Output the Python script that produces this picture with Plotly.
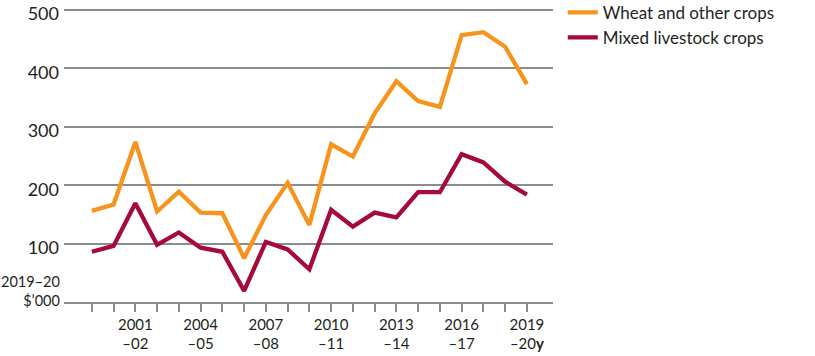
import plotly.graph_objects as go

years = list(range(1999, 2020))
wheat = [156, 167, 274, 155, 189, 153, 152, 75, 149, 204, 132, 270, 249, 323, 378, 344, 334, 457, 462, 437, 373]
mixed = [86, 96, 169, 98, 119, 93, 86, 19, 103, 90, 56, 158, 129, 153, 145, 188, 188, 253, 239, 206, 184]
series_names = ["Wheat and other crops", "Mixed livestock crops"]
colors = ["#F7941D", "#A6093D"]

label_years = [2001, 2004, 2007, 2010, 2013, 2016, 2019]
def tick_label(y):
    if y not in label_years:
        return ""
    suffix = str(y + 1)[-2:]
    if y == 2019:
        return f"{y}<br>–{suffix}<b>y</b>"
    return f"{y}<br>–{suffix}"
x_ticktext = [tick_label(y) for y in years]

y_tickvals = [100, 200, 300, 400, 500]
y_ticktext = ["100", "200", "300", "400", "500"]
y_unit_label = "2019–20<br>$’000"

FONT = "Lato"
TEXT = "#231f20"
GRID = "#8c8c8c"

fig = go.Figure()
for name, vals, c in zip(series_names, [wheat, mixed], colors):
    fig.add_trace(go.Scatter(x=years, y=vals, name=name, mode="lines",
                             line=dict(color=c, width=4.3)))

fig.update_layout(
    width=815, height=356,
    margin=dict(l=64, r=262, t=8, b=54, autoexpand=False),
    paper_bgcolor="white", plot_bgcolor="white",
    font=dict(family=FONT, size=16, color=TEXT),
    showlegend=True,
    legend=dict(x=1.02, xanchor="left", y=1.045, yanchor="top",
                font=dict(family=FONT, size=17, color=TEXT),
                bgcolor="rgba(0,0,0,0)", tracegroupgap=0),
    xaxis=dict(range=[1997.72, 2020.2], tickmode="array", tickvals=years,
               ticktext=x_ticktext, ticks="outside", ticklen=8, tickwidth=1.5,
               tickcolor=GRID, showgrid=False, showline=True, linecolor=GRID,
               linewidth=1.5, zeroline=False, fixedrange=True, automargin=False,
               tickfont=dict(family=FONT, size=15, color=TEXT)),
    yaxis=dict(range=[0, 503.4], tickmode="array", tickvals=y_tickvals,
               ticktext=y_ticktext, showgrid=True, gridcolor=GRID, gridwidth=1.5,
               zeroline=False, showline=False, ticks="", ticklabelstandoff=4,
               ticklabelshift=4,
               automargin=False, ticklabeloverflow="allow", fixedrange=True,
               tickfont=dict(family=FONT, size=18, color=TEXT)),
)
fig.add_annotation(text=y_unit_label, xref="paper", yref="y", x=0, y=0,
                   xanchor="right", yanchor="bottom", showarrow=False,
                   align="right", xshift=-2, yshift=-9,
                   font=dict(family=FONT, size=14.5, color=TEXT))

fig.write_html("out.html", config={"displayModeBar": False},
               post_script="document.body.style.margin='0';")
